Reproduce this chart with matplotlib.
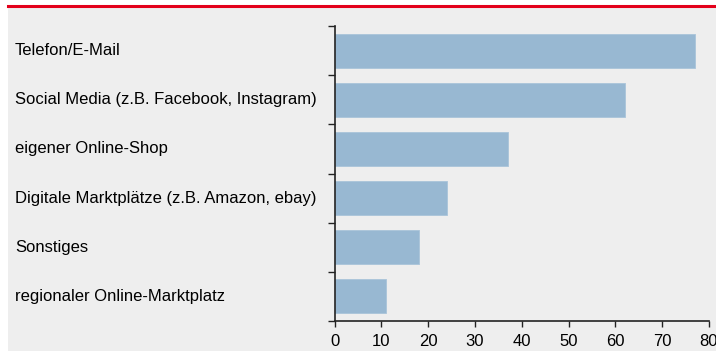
import matplotlib.pyplot as plt
from matplotlib.patches import Rectangle
from matplotlib.lines import Line2D
from matplotlib.transforms import blended_transform_factory

# Daten
categories = [
    "Telefon/E-Mail",
    "Social Media (z.B. Facebook, Instagram)",
    "eigener Online-Shop",
    "Digitale Marktplätze (z.B. Amazon, ebay)",
    "Sonstiges",
    "regionaler Online-Marktplatz",
]
values = [77, 62, 37, 24, 18, 11]
xticks = [0, 10, 20, 30, 40, 50, 60, 70, 80]

plt.rcParams['font.family'] = ['Liberation Sans', 'DejaVu Sans']

W, H = 716, 351
fig = plt.figure(figsize=(W / 100, H / 100), dpi=100)
fig.patch.set_facecolor('white')

# grauer Hintergrund + rote Linie oben
fig.patches.append(Rectangle((8 / W, 0), 1 - 8 / W, 1 - 7 / H,
                             transform=fig.transFigure, facecolor='#eeeeee',
                             edgecolor='none', zorder=-10))
fig.lines.append(Line2D([8 / W, 1], [1 - 6 / H, 1 - 6 / H], transform=fig.transFigure,
                        color='#e3001b', linewidth=2.2, zorder=-5))

x0, x1 = 334.7, 709
y_top, y_bot = 26, 321
ax = fig.add_axes([x0 / W, 1 - y_bot / H, (x1 - x0) / W, (y_bot - y_top) / H])
ax.set_facecolor('none')
ax.set_zorder(5)

ypos = list(range(len(categories)))
ax.barh(ypos, values, height=0.69, color='#98b8d2', edgecolor='#a9c4da', linewidth=0.6)
ax.set_ylim(len(categories) - 0.5, -0.5)
ax.set_xlim(0, 80)

for s in ['top', 'right']:
    ax.spines[s].set_visible(False)
for s in ['left', 'bottom']:
    ax.spines[s].set_color('#222222')
    ax.spines[s].set_linewidth(1.2)

ax.set_xticks(xticks)
ax.set_xticklabels([str(t) for t in xticks], fontsize=12)
ax.tick_params(axis='x', direction='out', length=4, width=1, pad=5, colors='#222222')
ax.tick_params(axis='x', labelcolor='black')

# y-Ticks an den Kategoriegrenzen, Beschriftung links ausgerichtet
ax.set_yticks([i - 0.5 for i in range(len(categories) + 1)])
ax.set_yticklabels([])
ax.tick_params(axis='y', direction='out', length=5, width=1, colors='#222222')

trans = blended_transform_factory(fig.transFigure, ax.transData)
for i, c in enumerate(categories):
    ax.text(15 / W, i, c, transform=trans, ha='left', va='center',
            fontsize=12, color='black', clip_on=False)

fig.savefig('out.png', dpi=100, facecolor=fig.get_facecolor())
